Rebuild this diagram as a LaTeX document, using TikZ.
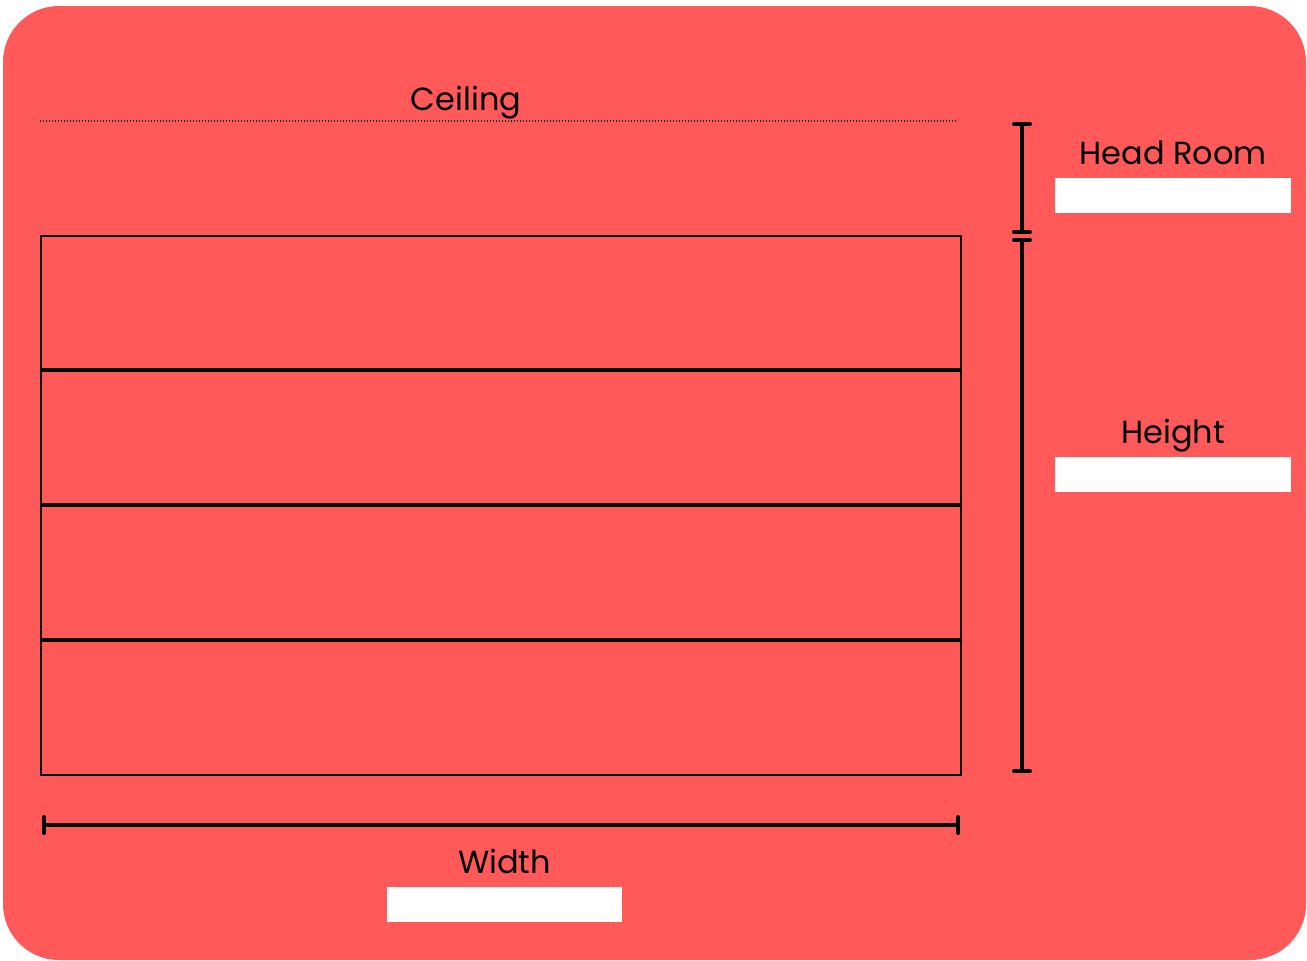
\documentclass[tikz,border=0pt]{standalone}
\usepackage{fontspec}
\setmainfont{Poppins}
\usepackage{tikz}
\usetikzlibrary{arrows.meta,positioning}
\definecolor{bgred}{HTML}{FF5959}
\begin{document}
\begin{tikzpicture}[x=1pt,y=-1pt]
    \tikzset{lbl/.style={
      font=\fontsize{32}{38}\selectfont,
      text=black,
      anchor=base,
      inner sep=0pt},
      field/.style={fill=white, draw=none},
      dim/.style={line width=3.5pt, {Bar[width=16pt,line width=4pt,round]}-{Bar[width=16pt,line width=4pt,round]}},
      shelf/.style={line width=3.5pt}}
    \useasboundingbox (0,0) rectangle (1307,961);
    \fill[white] (0,0) rectangle (1307,961);
    \fill[bgred, rounded corners=56pt] (3,6) rectangle (1306,960);

    % ceiling
    \coordinate (c0) at (40,121);
    \coordinate (c1) at (958,121);
    \draw[line width=1.2pt, dash pattern=on 1.2pt off 1.8pt] (c0) -- (c1);
    \node[lbl] at (466,110) (ceil) {Ceiling};

    % box with shelves
    \node at (501,505.5) [rectangle,draw,line width=2.8pt,minimum width=920pt,minimum height=539pt,inner sep=0pt] (box) {};
    \foreach \y in {370,505,640}
      \draw[shelf] (box.west |- 0,\y) -- (box.east |- 0,\y);

    % head room and height
    \coordinate (h0) at (1022,122);
    \coordinate (h1) at (1022,234);
    \coordinate (h2) at (1022,238);
    \coordinate (h3) at (1022,773);
    \draw[dim] (h0) -- (h1);
    \draw[dim] (h2) -- (h3);
    \node[lbl] at (1173,164) (head) {Head Room};
    \node[field,minimum width=236pt,minimum height=35pt] at (1173,195.5) (headbox) {};
    \node[lbl] at (1173,443) (height) {Height};
    \node[field,minimum width=236pt,minimum height=35pt] at (1173,474.5) (heightbox) {};

    % width
    \coordinate (w0) at (42,825);
    \coordinate (w1) at (960,825);
    \draw[dim] (w0) -- (w1);
    \node[lbl] at (504.5,873) (width) {Width};
    \node[field,minimum width=235pt,minimum height=35pt] at (504.5,904.5) (widthbox) {};
\end{tikzpicture}
\end{document}
